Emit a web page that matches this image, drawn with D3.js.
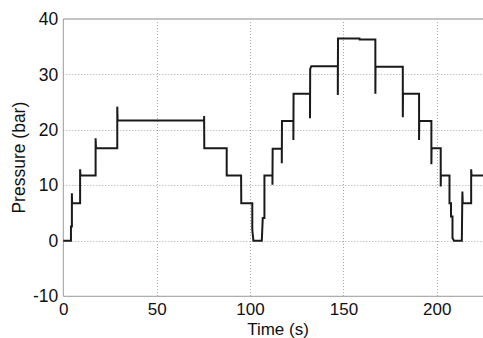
<!DOCTYPE html>
<html>
<head>
<meta charset="utf-8">
<script src="https://cdn.jsdelivr.net/npm/d3@7/dist/d3.min.js"></script>
<style>
  html, body { margin: 0; padding: 0; background: #fff; }
  svg { display: block; }
  text { font-family: "Liberation Sans", Arial, sans-serif; fill: #111; }
</style>
</head>
<body>
<svg id="chart" width="483" height="338"></svg>
<script>
// Data: time (s) and pressure (bar)
const timeVals = [0, 4.1, 4.1, 4.6, 4.6, 4.7, 9.0, 9.0, 9.2, 17.3, 17.3, 17.5, 28.9, 28.9, 29.1,
  75.4, 75.4, 75.5, 87.5, 87.5, 95.2, 95.3, 101.2, 101.2, 101.8, 106.3, 106.8, 107.7, 107.7,
  112.0, 112.0, 112.1, 117.0, 117.0, 117.1, 123.2, 123.2, 123.3, 132.1, 132.1, 132.2, 132.8,
  147.0, 147.0, 147.1, 158.6, 158.7, 167.1, 167.1, 167.2, 181.8, 181.8, 181.9,
  190.5, 190.5, 190.6, 197.1, 197.1, 197.2, 202.1, 202.1, 202.2, 206.8, 206.8, 207.6, 207.6, 208.4, 208.4, 209.2,
  213.4, 213.7, 213.9, 214.2, 218.4, 218.4, 218.6, 230];
const pressureVals = [0, 0, 2.6, 2.6, 8.6, 6.8, 6.8, 12.9, 11.8, 11.8, 18.5, 16.7, 16.7, 24.2, 21.7,
  21.7, 22.5, 16.7, 16.7, 11.8, 11.8, 6.8, 6.8, 2.0, 0, 0, 4.1, 4.1, 11.8,
  11.8, 10.1, 16.6, 16.6, 14.0, 21.6, 21.6, 18.2, 26.5, 26.5, 22.1, 31.0, 31.5,
  31.5, 26.3, 36.5, 36.5, 36.3, 36.3, 26.5, 31.4, 31.4, 22.3, 26.5,
  26.5, 18.2, 21.6, 21.6, 13.8, 16.7, 16.7, 9.8, 11.8, 11.8, 6.8, 6.8, 4.4, 4.4, 0.5, 0,
  0, 8.9, 6.8, 6.8, 6.8, 12.9, 11.8, 11.8];
const xTicks = [0, 50, 100, 150, 200];
const yTicks = [-10, 0, 10, 20, 30, 40];
const xLabel = "Time (s)";
const yLabel = "Pressure (bar)";

const svg = d3.select("#chart");
const mLeft = 63.3, mTop = 19, mBottom = 296.3;
const x = d3.scaleLinear().domain([0, 230]).range([mLeft, mLeft + 230 * 1.8675]);
const y = d3.scaleLinear().domain([-10, 40]).range([mBottom, mTop]);

// grid
const grid = svg.append("g");
grid.selectAll("line.gx").data(xTicks.filter(d => d > 0)).enter().append("line")
  .attr("x1", d => Math.round(x(d)) + 0.5).attr("x2", d => Math.round(x(d)) + 0.5).attr("y1", mTop).attr("y2", mBottom)
  .attr("stroke", "#a8a8a8").attr("stroke-width", 1).attr("stroke-dasharray", "1,2");
grid.selectAll("line.gy").data(yTicks.filter(d => d > -10 && d < 40)).enter().append("line")
  .attr("x1", mLeft).attr("x2", 483).attr("y1", d => Math.round(y(d)) + 0.5).attr("y2", d => Math.round(y(d)) + 0.5)
  .attr("stroke", "#a8a8a8").attr("stroke-width", 1).attr("stroke-dasharray", "1,2");

// axes box
svg.append("line").attr("x1", mLeft).attr("x2", 483).attr("y1", mTop).attr("y2", mTop)
  .attr("stroke", "#c4c4c4").attr("stroke-width", 2);
svg.append("line").attr("x1", mLeft).attr("x2", mLeft).attr("y1", mTop).attr("y2", mBottom)
  .attr("stroke", "#9a9a9a").attr("stroke-width", 1);
svg.append("line").attr("x1", mLeft).attr("x2", 483).attr("y1", mBottom).attr("y2", mBottom)
  .attr("stroke", "#9a9a9a").attr("stroke-width", 1);

const fmt = d => String(d);
// tick labels via axes
const xAxis = d3.axisBottom(x).tickValues(xTicks).tickFormat(fmt).tickSize(0).tickPadding(6.5);
const gx = svg.append("g").attr("transform", `translate(0,${mBottom})`).call(xAxis);
gx.select(".domain").remove();
gx.selectAll("text").style("font-size", "17px").attr("font-family", "Liberation Sans, Arial, sans-serif").attr("fill", "#111");

const yAxis = d3.axisLeft(y).tickValues(yTicks).tickFormat(fmt).tickSize(0).tickPadding(5);
const gy = svg.append("g").attr("transform", `translate(${mLeft},0)`).call(yAxis);
gy.select(".domain").remove();
gy.selectAll("text").style("font-size", "17.5px").attr("font-family", "Liberation Sans, Arial, sans-serif").attr("fill", "#111");

// labels
svg.append("text").attr("x", 278).attr("y", 334.5).attr("text-anchor", "middle")
  .style("font-size", "17px").text(xLabel);
svg.append("text").attr("transform", `translate(25,${(mTop + mBottom) / 2}) rotate(-90)`)
  .attr("text-anchor", "middle").style("font-size", "17.5px").text(yLabel);

// line
const pts = timeVals.map((t, i) => [t, pressureVals[i]]);
svg.append("path").datum(pts)
  .attr("d", d3.line().x(d => x(d[0])).y(d => y(d[1])))
  .attr("fill", "none").attr("stroke", "#1a1a1a").attr("stroke-width", 2).attr("stroke-linejoin", "miter");
</script>
</body>
</html>
